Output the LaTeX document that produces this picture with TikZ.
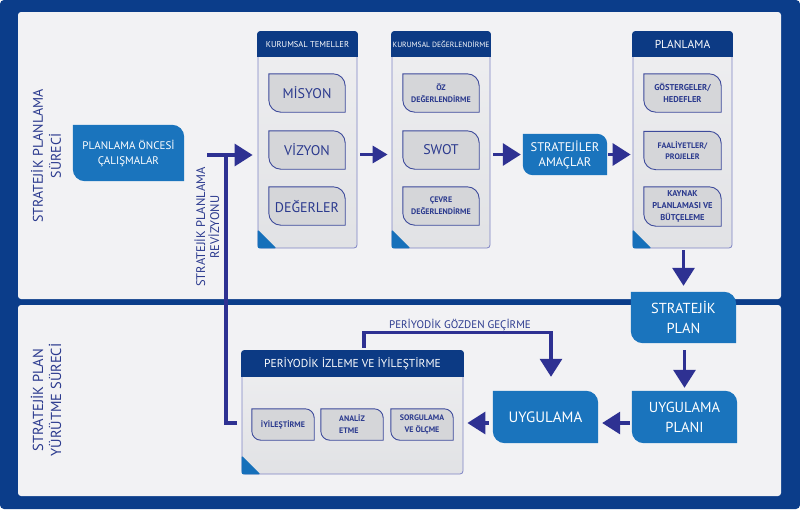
\documentclass[tikz,border=0pt]{standalone}
\usepackage{fontspec}
\setmainfont{PT Sans}
\usetikzlibrary{arrows.meta}
\pgfdeclarelayer{back}
\pgfdeclarelayer{mid}
\pgfsetlayers{back,mid,main}
\definecolor{frame}{HTML}{0B3D8A}
\definecolor{panel}{HTML}{F2F2F4}
\definecolor{arr}{HTML}{2E3192}
\definecolor{bbox}{HTML}{1A74BD}
\definecolor{hdr}{HTML}{0C3A84}
\definecolor{gbox}{HTML}{D5D6D9}
\definecolor{gline}{HTML}{3D4A9B}
\definecolor{ctxt}{HTML}{2B3A8E}
\definecolor{contA}{HTML}{EFEFF1}
\definecolor{contB}{HTML}{E1E2E5}
\definecolor{cline}{HTML}{7E84C4}
\definecolor{corner}{HTML}{1670BA}
\newcommand\fs[2]{\fontsize{#1pt}{#2pt}\selectfont}
\newcommand\leafpath[2]{(#1.north west) -- ([xshift=-#2pt]#1.north east) arc[start angle=90,end angle=0,radius=#2pt] -- (#1.south east) -- ([xshift=#2pt]#1.south west) arc[start angle=270,end angle=180,radius=#2pt] -- cycle}
\newcommand\bluebox[2]{\begin{pgfonlayer}{mid}\fill[bbox] \leafpath{#1}{#2};\end{pgfonlayer}}
\newcommand\graybox[2]{\begin{pgfonlayer}{mid}\filldraw[fill=gbox, draw=gline, line width=0.9pt] \leafpath{#1}{#2};\end{pgfonlayer}}
% name, cx, cy, w, h, header height, header text
\newcommand\container[7]{%
  \node[cont, minimum width=#4pt, minimum height=#5pt] (#1) at (#2,#3) {};
  \fill[hdr, rounded corners=3pt] ([shift={(-0.5pt,0.5pt)}]#1.north west) rectangle ([shift={(0.5pt,-#6pt)}]#1.north east);
  \fill[hdr] ([shift={(-0.5pt,-#6pt/2)}]#1.north west) rectangle ([shift={(0.5pt,-#6pt)}]#1.north east);
  \fill[corner, rounded corners=2pt] ([yshift=19pt]#1.south west) -- (#1.south west) -- ([xshift=19pt]#1.south west) -- cycle;
  \node[hdrtext] (#1h) at ([yshift={-#6pt/2}]#1.north) {#7};
}
\tikzset{
  line/.style={draw=arr, line width=3.2pt},
  arrow/.style={line, -{Triangle[length=18pt,width=22pt]}},
  cont/.style={draw=cline, line width=0.8pt, rounded corners=3pt, top color=contA, bottom color=contB},
  hdrtext/.style={text=white, inner sep=0pt, font=\fs{8.5}{10}},
  btxt/.style={text=white, inner sep=0pt, align=center},
  gtxt/.style={text=ctxt, inner sep=0pt, align=center, minimum width=76pt, minimum height=38pt},
  lbl/.style={text=ctxt, inner sep=0pt, align=center},
}
\begin{document}
\begin{tikzpicture}[x=1pt, y=-1pt]
\useasboundingbox (0,0) rectangle (800,509);
\begin{pgfonlayer}{back}
  \fill[frame, rounded corners=4pt] (0,0) rectangle (800,509);
  \fill[panel, rounded corners=3pt] (18,12) rectangle (781,299);
  \fill[panel, rounded corners=3pt] (18,305) rectangle (781,496);
  \container{kt}{307.5}{140}{99}{216}{25}{KURUMSAL TEMELLER}
  \container{kd}{441}{140}{98}{216}{25}{\fs{7.6}{9}KURUMSAL DEĞERLENDİRME}
  \container{pl}{682.5}{140}{99}{216}{25}{\fs{11.5}{13}PLANLAMA}
  \container{pi}{352.5}{412.5}{221}{123}{26}{\fs{11.5}{13}PERİYODİK İZLEME VE İYİLEŞTİRME}
\end{pgfonlayer}

% side labels
\node[lbl, rotate=90, font=\fs{14}{18}] (lab1) at (46,156) {STRATEJİK PLANLAMA\\SÜRECİ};
\node[lbl, rotate=90, font=\fs{14.5}{18}] (lab2) at (46,400) {STRATEJİK PLAN\\YÜRÜTME SÜRECİ};
\node[lbl, rotate=90, font=\fs{12.5}{14}] (lab3) at (207,227) {STRATEJİK PLANLAMA\\REVİZYONU};
\node[lbl, font=\fs{11}{13}] (lab4) at (460,325) {PERİYODİK GÖZDEN GEÇİRME};

% blue boxes
\node[btxt, minimum width=111pt, minimum height=56pt, font=\fs{11}{15}] (poc) at (128.5,153) {PLANLAMA ÖNCESİ\\ÇALIŞMALAR};
\bluebox{poc}{12}
\node[btxt, minimum width=84pt, minimum height=41pt, font=\fs{12.5}{15}] (sa) at (565,154.5) {STRATEJİLER\\AMAÇLAR};
\bluebox{sa}{10}
\node[btxt, minimum width=105pt, minimum height=51pt, font=\fs{14.5}{20}] (sp) at (683.5,317.5) {STRATEJİK\\PLAN};
\bluebox{sp}{12}
\node[btxt, minimum width=105pt, minimum height=52pt, font=\fs{14.5}{20}] (up) at (684.5,417) {UYGULAMA\\PLANI};
\bluebox{up}{12}
\node[btxt, minimum width=105pt, minimum height=52pt, font=\fs{15}{17}] (ug) at (545.5,417) {UYGULAMA};
\bluebox{ug}{12}

% gray boxes
\node[gtxt, font=\fs{14}{16}] (m1) at (307,93) {MİSYON};
\node[gtxt, font=\fs{14}{16}] (m2) at (307,150) {VİZYON};
\node[gtxt, font=\fs{14}{16}] (m3) at (307,206) {DEĞERLER};
\node[gtxt, font=\bfseries\fs{8}{12}] (d1) at (441,93) {ÖZ\\DEĞERLENDİRME};
\node[gtxt, font=\fs{14}{16}] (d2) at (441,150) {SWOT};
\node[gtxt, font=\bfseries\fs{8}{12}] (d3) at (441,206) {ÇEVRE\\DEĞERLENDİRME};
\node[gtxt, minimum width=77pt, font=\bfseries\fs{8.5}{12}] (p1) at (682.5,93) {GÖSTERGELER/\\HEDEFLER};
\node[gtxt, minimum width=77pt, font=\bfseries\fs{8}{11.5}] (p2) at (682.5,150.5) {FAALİYETLER/\\PROJELER};
\node[gtxt, minimum width=77pt, minimum height=39pt, font=\bfseries\fs{8.5}{12}] (p3) at (682.5,206.5) {KAYNAK\\PLANLAMASI VE\\BÜTÇELEME};
\node[gtxt, minimum width=62pt, minimum height=31pt, font=\bfseries\fs{8}{12}] (i1) at (283,424.5) {İYİLEŞTİRME};
\node[gtxt, minimum width=62pt, minimum height=31pt, align=left, font=\bfseries\fs{8}{12}] (i2) at (352,424.5) {ANALİZ\\ETME};
\node[gtxt, minimum width=62pt, minimum height=31pt, font=\bfseries\fs{8}{12}] (i3) at (422,424.5) {SORGULAMA\\VE ÖLÇME};
\graybox{m1}{12}\graybox{m2}{12}\graybox{m3}{12}
\graybox{d1}{12}\graybox{d2}{12}\graybox{d3}{12}
\graybox{p1}{12}\graybox{p2}{12}\graybox{p3}{12}
\graybox{i1}{9}\graybox{i2}{9}\graybox{i3}{9}

% connectors
\coordinate (rvtop) at (207,155);
\coordinate (rvbend) at (226,155);
\coordinate (rvend) at (237,423);
\draw[arrow, shorten >=5pt] (rvtop) -- (kt.west |- rvtop);
\draw[line] (rvend) -| (rvbend);
\draw[arrow, -{Triangle[length=15pt,width=17pt]}, shorten <=3pt, shorten >=4pt] (kt.east |- sa) -- (kd.west |- sa);
\draw[arrow, shorten <=3pt, shorten >=2pt] (kd.east |- sa) -- (sa.west);
\draw[arrow, shorten <=1pt, shorten >=2pt] (sa.east) -- (pl.west |- sa);
\draw[arrow, shorten <=2pt, shorten >=6pt] (pl.south -| sp) -- (sp.north);
\draw[arrow, shorten <=7pt, shorten >=3pt] (sp.south -| up) -- (up.north);
\draw[arrow, shorten <=2pt, shorten >=4pt] ([yshift=-6pt]up.west) -- ([yshift=-6pt]ug.east);
\draw[arrow, shorten <=4pt, shorten >=4pt] ([yshift=-6pt]ug.west) -- (pi.east |- rvend);
\draw[arrow, shorten >=14pt] ([shift={(11.5pt,3pt)}]pi.north) -- ++(0,-15) -| ([xshift=5.5pt]ug.north);
\end{tikzpicture}
\end{document}
